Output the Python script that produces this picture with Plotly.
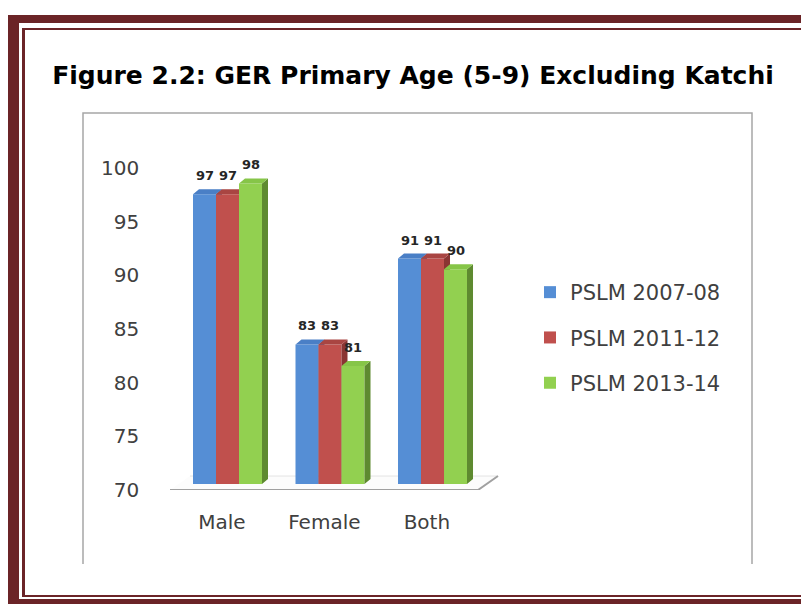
import plotly.graph_objects as go

# ---------------- data ----------------
categories = ["Male", "Female", "Both"]
series_names = ["PSLM 2007-08", "PSLM 2011-12", "PSLM 2013-14"]
pslm_2007_08 = [97, 83, 91]
pslm_2011_12 = [97, 83, 91]
pslm_2013_14 = [98, 81, 90]
y_ticks = [70, 75, 80, 85, 90, 95, 100]
title_text = "Figure 2.2: GER Primary Age (5-9) Excluding Katchi"

# ---------------- style ----------------
OFF = 8                         # page body margin of the html page
W, H = 809 - OFF, 604 - OFF
PL, PR, PT, PB = 170, 510, 168, 490   # plot area in page pixels
ML, MR, MT, MB = PL - OFF, (809 - OFF) - (PR - OFF), PT - OFF, H - (PB - OFF)
PW, PH = W - ML - MR, H - MT - MB
Y0, Y1 = 70, 100
X_RANGE = [-0.561, 2.756]
front_cols = ["#558ED5", "#C0504D", "#92D050"]
top_cols = ["#4A7FC6", "#A94542", "#86C548"]
side_cols = ["#355F9C", "#8A3533", "#5E8A30"]
BAR_W = 0.2244
DX, DY = 0.0585, 0.47          # bar depth (x units, y units)
BASE = Y0 + 0.56               # front face base (3-D floor offset)
FLOOR_DX, FLOOR_DY = 0.195, 1.30
AX_FONT = dict(family="DejaVu Sans", size=20, color="#404040")
FRAME = "#6B2427"


def P(px, py):
    """page pixel -> paper coordinates"""
    return (px - PL) / PW, (PB - py) / PH


series = [pslm_2007_08, pslm_2011_12, pslm_2013_14]
xs = list(range(len(categories)))

fig = go.Figure()
annotations = []
for k, (name, vals) in enumerate(zip(series_names, series)):
    off = -1.5 * BAR_W + k * BAR_W
    fig.add_trace(go.Bar(
        x=xs, y=[v - Y0 for v in vals], base=BASE, width=BAR_W, offset=off,
        name=name, marker=dict(color=front_cols[k], line=dict(width=0)),
        legendgroup=name, zorder=2 * k, hoverinfo="skip",
    ))
    tx, ty, sx, sy = [], [], [], []
    for i, v in zip(xs, vals):
        x0 = i + off
        x1 = x0 + BAR_W
        top = BASE + (v - Y0)
        tx += [x0, x1, x1 + DX, x0 + DX, x0, None]
        ty += [top, top, top + DY, top + DY, top, None]
        sx += [x1, x1 + DX, x1 + DX, x1, x1, None]
        sy += [BASE, BASE + DY, top + DY, top, BASE, None]
        annotations.append(dict(
            x=x0 + BAR_W / 2, y=top + DY, xref="x", yref="y", text=str(v),
            showarrow=False, yanchor="bottom", yshift=4,
            font=dict(family="DejaVu Sans", size=13, color="#262626", weight="bold"),
        ))
    fig.add_trace(go.Scatter(x=sx, y=sy, mode="lines", fill="toself",
                             fillcolor=side_cols[k], line=dict(width=0),
                             showlegend=False, hoverinfo="skip", zorder=2 * k + 1))
    fig.add_trace(go.Scatter(x=tx, y=ty, mode="lines", fill="toself",
                             fillcolor=top_cols[k], line=dict(width=0),
                             showlegend=False, hoverinfo="skip", zorder=2 * k + 1))

shapes = []
# 3-D floor
xl, xr = X_RANGE[0], (478 - 227.5) / 102.5
shapes.append(dict(type="path", xref="x", yref="y", layer="below",
                   path=f"M{xl},{Y0} L{xr},{Y0} L{xr + FLOOR_DX},{Y0 + FLOOR_DY} "
                        f"L{xl + FLOOR_DX},{Y0 + FLOOR_DY} Z",
                   fillcolor="#FCFCFC", line=dict(width=0)))
shapes.append(dict(type="line", xref="x", yref="y", layer="below",
                   x0=xl + FLOOR_DX, y0=Y0 + FLOOR_DY, x1=xr + FLOOR_DX, y1=Y0 + FLOOR_DY,
                   line=dict(color="#E3E3E3", width=1)))
shapes.append(dict(type="path", xref="x", yref="y", layer="above",
                   path=f"M{xl},{Y0} L{xr},{Y0} L{xr + FLOOR_DX},{Y0 + FLOOR_DY}",
                   line=dict(color="#A0A0A0", width=2)))

# chart box (left, top, right)
bx0, by0 = P(83, 113)
bx1, by1 = P(752, 564)
shapes.append(dict(type="path", xref="paper", yref="paper",
                   path=f"M{bx0},{by1} L{bx0},{by0} L{bx1},{by0} L{bx1},{by1}",
                   line=dict(color="#A6A6A6", width=1.5)))

# page frame (double border)
def rect(px0, py0, px1, py1):
    a, b = P(px0, py0)
    c, d = P(px1, py1)
    return dict(type="rect", xref="paper", yref="paper", x0=a, y0=b, x1=c, y1=d,
                fillcolor=FRAME, line=dict(width=0), layer="above")

shapes += [
    rect(8, 15, 830, 23), rect(8, 15, 19, 620), rect(8, 599, 830, 620),
    rect(22, 28, 830, 30), rect(22, 28, 25, 597), rect(22, 595, 830, 597),
]

lx, ly = P(530, 272)
fig.update_layout(
    width=W, height=H,
    margin=dict(l=ML, r=MR, t=MT, b=MB, pad=0),
    paper_bgcolor="white", plot_bgcolor="rgba(0,0,0,0)",
    barmode="overlay",
    title=dict(text=f"<b>{title_text}</b>", x=(413 - OFF) / W, y=1 - (75 - OFF) / H,
               xanchor="center", yanchor="middle", xref="container", yref="container",
               font=dict(family="DejaVu Sans", size=25, color="#000000")),
    xaxis=dict(range=X_RANGE, tickvals=[i - 0.055 for i in xs], ticktext=categories,
               showgrid=False, zeroline=False, showline=False, ticks="",
               ticklabelstandoff=18, tickfont=AX_FONT, fixedrange=True),
    yaxis=dict(range=[Y0, Y1], tickvals=y_ticks, showgrid=False, zeroline=False,
               showline=True, linecolor="#8C8C8C", linewidth=1.5, ticks="",
               ticklabelstandoff=25, tickfont=AX_FONT, fixedrange=True),
    legend=dict(x=lx, y=ly, xanchor="left", yanchor="top",
                font=dict(family="DejaVu Sans", size=21, color="#404040"),
                bgcolor="rgba(0,0,0,0)", tracegroupgap=15, traceorder="grouped"),
    shapes=shapes,
    annotations=annotations,
    showlegend=True,
)

fig.write_html("out.html")
